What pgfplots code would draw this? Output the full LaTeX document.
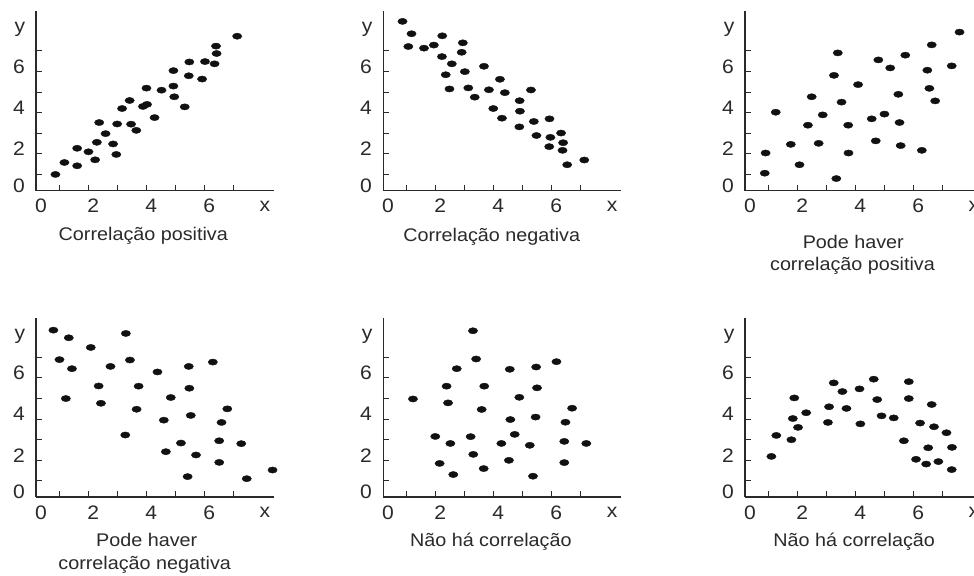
\documentclass[border=0pt]{standalone}
\usepackage{fontspec}
\setmainfont{Liberation Sans}[FakeStretch=1.08]
\usepackage{pgfplots}
\pgfplotsset{compat=1.18}
\definecolor{ink}{HTML}{2A2A2A}
\definecolor{dot}{HTML}{111111}
\newcommand{\lblfont}{\fontsize{19.5bp}{21bp}\selectfont}
\newcommand{\capfont}{\fontsize{18.3bp}{20bp}\selectfont}
\pgfplotsset{
  panel/.style={
    scale only axis, width=238bp, height=179bp,
    xmin=0.2, xmax=8.41, ymin=0.22, ymax=8.91,
    axis lines=left, axis line style={-, ink, line width=1.1bp},
    xtick={0.2,2,4,6}, xticklabels={0,2,4,6}, minor xtick={1,3,5,7},
    ytick={0.22,2,4,6}, yticklabels={0,2,4,6}, minor ytick={1,3,5,7},
    tick align=inside,
    major tick length=6bp, minor tick length=6bp,
    tick style={ink, line width=1bp},
    xticklabel style={anchor=center, xshift=5bp, yshift=-15.5bp, font=\lblfont, text=ink},
    yticklabel style={anchor=center, xshift=-17bp, yshift=5bp, font=\lblfont, text=ink},
    /pgf/number format/assume math mode=true,
    clip=false,
  },
  pts/.style={only marks, mark=*, mark size=3.1bp, color=dot,
    mark options={draw=none, fill=dot, xscale=1.5}},
}
\newcommand{\xylabels}{%
  \node[font=\lblfont, text=ink] at (rel axis cs:0.962,-0.0866) {x};
  \node[font=\lblfont, text=ink] at (rel axis cs:-0.0672,0.899) {y};
}
\begin{document}
\begin{tikzpicture}
\useasboundingbox (0,0) rectangle (974bp,-576bp);
\clip (0,0) rectangle (974bp,-576bp);
\fill[white] (0,0) rectangle (974bp,-576bp);

% Panel 1
\begin{axis}[panel, at={(36bp,-190.5bp)}, anchor=south west]
\addplot[pts] coordinates {(0.87,1.00)(1.18,1.58)(1.62,2.27)(1.62,1.42)(2.01,2.10)(2.24,1.71)(2.30,2.56)(2.38,3.52)(2.60,2.98)(2.86,2.48)(2.97,1.97)(3.00,3.45)(3.17,4.20)(3.43,4.59)(3.48,3.44)(3.66,3.14)(3.89,4.30)(4.01,5.19)(4.03,4.40)(4.29,3.76)(4.53,5.09)(4.94,6.04)(4.94,5.29)(4.97,4.77)(5.33,4.28)(5.49,6.46)(5.47,5.79)(5.93,5.63)(6.03,6.48)(6.36,6.37)(6.41,7.23)(6.43,6.87)(7.14,7.71)};
\xylabels
\end{axis}

% Panel 2
\begin{axis}[panel, at={(383.1bp,-190.5bp)}, anchor=south west]
\addplot[pts] coordinates {(0.87,8.43)(1.18,7.83)(1.07,7.21)(1.61,7.13)(1.95,7.28)(2.24,7.73)(2.23,6.72)(2.36,5.84)(2.49,5.15)(2.57,6.37)(2.91,6.93)(2.95,7.39)(3.02,5.99)(3.14,5.20)(3.36,4.75)(3.68,6.25)(3.85,5.11)(4.00,4.20)(4.23,5.62)(4.30,3.73)(4.40,4.97)(4.91,4.58)(4.92,4.07)(4.90,3.31)(5.30,5.10)(5.40,3.57)(5.49,2.89)(5.94,3.70)(5.97,2.80)(5.93,2.35)(6.34,3.01)(6.41,2.54)(6.39,2.17)(6.55,1.47)(7.14,1.70)};
\xylabels
\end{axis}

% Panel 3
\begin{axis}[panel, at={(745bp,-190.5bp)}, anchor=south west]
\addplot[pts] coordinates {(0.88,1.06)(0.91,2.04)(1.26,4.02)(1.78,2.46)(2.08,1.47)(2.37,3.39)(2.50,4.77)(2.74,2.51)(2.88,3.89)(3.27,5.81)(3.40,6.90)(3.35,0.80)(3.53,4.51)(3.76,3.39)(3.77,2.04)(4.10,5.36)(4.57,3.70)(4.71,2.63)(4.80,6.56)(5.01,3.93)(5.21,6.17)(5.49,4.89)(5.53,3.52)(5.57,2.40)(5.73,6.79)(6.30,2.17)(6.49,6.06)(6.56,5.18)(6.64,7.29)(6.76,4.57)(7.33,6.27)(7.60,7.91)};
\xylabels
\end{axis}

% Panel 4
\begin{axis}[panel, at={(36bp,-497bp)}, anchor=south west]
\addplot[pts] coordinates {(0.80,8.32)(1.01,6.89)(1.33,7.95)(1.44,6.45)(1.23,5.00)(2.09,7.48)(2.36,5.61)(2.44,4.77)(2.77,6.56)(3.30,8.16)(3.44,6.87)(3.28,3.23)(3.74,5.60)(3.67,4.48)(4.39,6.29)(4.61,3.95)(4.68,2.42)(4.85,5.05)(5.20,2.84)(5.47,6.56)(5.49,5.50)(5.54,4.18)(5.43,1.21)(5.72,2.26)(6.30,6.77)(6.52,2.95)(6.52,1.90)(6.60,3.84)(6.80,4.50)(7.28,2.81)(7.47,1.11)(8.36,1.53)};
\xylabels
\end{axis}

% Panel 5
\begin{axis}[panel, at={(383.1bp,-497bp)}, anchor=south west]
\addplot[pts] coordinates {(1.23,4.98)(2.00,3.16)(2.15,1.85)(2.39,5.60)(2.44,4.79)(2.52,2.82)(2.62,1.31)(2.74,6.45)(3.22,3.15)(3.30,8.29)(3.31,2.29)(3.41,6.92)(3.60,4.47)(3.69,5.60)(3.67,1.60)(4.28,2.82)(4.57,6.42)(4.59,3.98)(4.54,2.00)(4.74,3.26)(4.90,5.06)(5.26,2.73)(5.37,1.23)(5.46,4.10)(5.48,6.53)(5.51,5.52)(6.18,6.79)(6.45,1.89)(6.45,2.92)(6.49,3.85)(6.72,4.53)(7.21,2.82)};
\xylabels
\end{axis}

% Panel 6
\begin{axis}[panel, at={(745bp,-497bp)}, anchor=south west]
\addplot[pts] coordinates {(1.11,2.19)(1.28,3.21)(1.80,3.00)(1.85,4.03)(1.90,5.03)(2.03,3.60)(2.31,4.31)(3.06,3.84)(3.10,4.60)(3.26,5.76)(3.56,5.34)(3.70,4.52)(4.15,5.47)(4.18,3.77)(4.64,5.94)(4.76,4.95)(4.91,4.16)(5.33,4.06)(5.68,2.95)(5.85,5.82)(5.85,5.00)(6.10,2.05)(6.24,3.81)(6.45,1.82)(6.52,2.61)(6.64,4.71)(6.72,3.63)(6.87,1.94)(7.15,3.34)(7.34,2.63)(7.33,1.55)};
\xylabels
\end{axis}

% Captions
\begin{scope}[every node/.style={font=\capfont, text=ink, anchor=base, inner sep=0pt}]
\node at (143.3bp,-240.7bp) {Correlação positiva};
\node at (491.7bp,-241bp) {Correlação negativa};
\node at (853.3bp,-248.3bp) {Pode haver};
\node at (852.5bp,-270.7bp) {correlação positiva};
\node at (146.7bp,-546bp) {Pode haver};
\node at (144.7bp,-569bp) {correlação negativa};
\node at (490.8bp,-546bp) {Não há correlação};
\node at (854.2bp,-546bp) {Não há correlação};
\end{scope}
\end{tikzpicture}
\end{document}
